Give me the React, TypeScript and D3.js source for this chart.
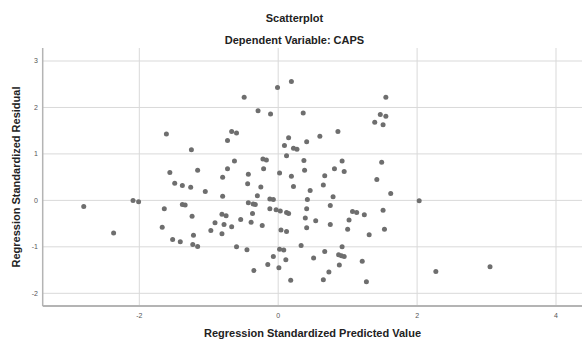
import React from "react";
import * as d3 from "d3";

const predicted = [
  -0.01, -0.49, -0.29, -0.11, -1.61, -0.67, -0.6, -0.73, -1.25, -0.22, -0.17, -0.63, -1.56, -1.16, -0.73, -0.21,
  -0.8, -0.43, 0.02, -1.49, -1.38, -1.26, -0.44, -0.25, 0.19, 1.55, 0.36, 1.47, 1.55, 1.39, 1.51, 0.86, 0.6,
  0.15, 0.41, 0.09, 0.22, 0.27, 0.12, 0.37, 0.92, 1.49, 0.38, 0.81, 0.95, 0.19, 0.67, 1.42, 0.22, 0.65, 0.46,
  -1.05, -0.8, -2.09, -2.01, -1.64, -1.38, -1.34, -1.24, -1.67, -1.52, -1.41, -1.22, -1.23, -1.16, -0.97, -0.91,
  -0.81, -0.75, -0.78, -0.81, -0.67, -0.54, -0.43, -0.36, -0.33, -0.37, -0.39, -0.23, -0.3, -0.12, -0.07, -0.12,
  -0.03, 0.03, 0.12, 0.15, -0.6, -0.45, -0.07, -0.15, -0.35, 0.01, 0.42, 0.79, 1.62, 2.03, 0.41, 0.75, 0.39,
  0.54, 0.75, 0.41, 0.04, 0.12, 1.07, 1.13, 1.24, 1.51, 1.02, 1.0, 1.53, 1.31, 0.33, 0.02, 0.08, 0.92, 0.11,
  0.51, 0.67, 0.87, 0.91, 0.95, 1.21, 0.88, 0.73, 0.65, 0.18, 1.27, -2.8, -2.37, 2.27, 3.05,
];

const residual = [
  2.43, 2.22, 1.93, 1.86, 1.43, 1.48, 1.45, 1.29, 1.09, 0.89, 0.87, 0.85, 0.6, 0.65, 0.68, 0.68,
  0.5, 0.56, 0.59, 0.37, 0.32, 0.28, 0.36, 0.29, 2.56, 2.22, 1.88, 1.85, 1.81, 1.68, 1.63, 1.48, 1.38,
  1.35, 1.26, 1.18, 1.12, 1.1, 0.96, 0.86, 0.85, 0.82, 0.65, 0.68, 0.62, 0.52, 0.53, 0.45, 0.3, 0.33, 0.21,
  0.19, 0.09, 0.0, -0.03, -0.18, -0.09, -0.1, -0.34, -0.58, -0.84, -0.89, -0.75, -0.95, -0.99, -0.65, -0.48,
  -0.3, -0.33, -0.52, -0.72, -0.57, -0.41, -0.05, -0.08, -0.09, -0.28, -0.47, -0.54, 0.1, 0.03, 0.02, -0.18,
  -0.2, -0.23, -0.26, -0.28, -1.0, -1.06, -1.21, -1.38, -1.51, -1.45, 0.02, 0.08, 0.15, -0.01, -0.18, -0.11, -0.38,
  -0.44, -0.52, -0.59, -0.64, -0.67, -0.24, -0.26, -0.31, -0.21, -0.42, -0.62, -0.62, -0.74, -0.97, -1.05, -1.07, -1.0, -1.28,
  -1.24, -1.1, -1.17, -1.19, -1.21, -1.31, -1.39, -1.54, -1.71, -1.72, -1.75, -0.13, -0.7, -1.53, -1.43,
];

const xTicks = [-2, 0, 2, 4];
const yTicks = [-2, -1, 0, 1, 2, 3];

const title = "Scatterplot";
const subtitle = "Dependent Variable: CAPS";
const xTitle = "Regression Standardized Predicted Value";
const yTitle = "Regression Standardized Residual";

export default function App() {
  const W = 582;
  const H = 343;
  const left = 42.7;
  const right = 582;
  const top = 48;
  const bottom = 306;

  const x = d3.scaleLinear().domain([-2, 4]).range([139.3, 556]);
  const y = d3.scaleLinear().domain([-2, 3]).range([293.3, 61]);

  const font = "'Liberation Sans', Arial, sans-serif";
  const pts = predicted.map((p, i) => ({ p, r: residual[i] }));

  return (
    <svg
      width={W}
      height={H}
      style={{ position: "absolute", left: 0, top: 0, background: "#fff" }}
    >
      <rect x={0} y={0} width={W} height={H} fill="#fff" />
      {xTicks.map((t) => (
        <line key={"gx" + t} x1={x(t)} x2={x(t)} y1={top} y2={bottom} stroke="#d9d9d9" strokeWidth={1} />
      ))}
      {yTicks.map((t) => (
        <line key={"gy" + t} x1={left} x2={right} y1={y(t)} y2={y(t)} stroke="#d9d9d9" strokeWidth={1} />
      ))}
      <line x1={left} x2={left} y1={top} y2={bottom} stroke="#b4b4b4" strokeWidth={1.5} />
      <line x1={left} x2={right} y1={bottom} y2={bottom} stroke="#b4b4b4" strokeWidth={2} />
      {xTicks.map((t) => (
        <text key={"tx" + t} x={x(t)} y={318} textAnchor="middle" fontFamily={font} fontSize={7} fill="#555">
          {t}
        </text>
      ))}
      {yTicks.map((t) => (
        <text key={"ty" + t} x={38} y={y(t)} dy="0.35em" textAnchor="end" fontFamily={font} fontSize={7} fill="#555">
          {t}
        </text>
      ))}
      {pts.map((d, i) => (
        <circle key={i} cx={x(d.p)} cy={y(d.r)} r={2.5} fill="#6e6e6e" />
      ))}
      <text x={294.5} y={22} textAnchor="middle" fontFamily={font} fontSize={11} fontWeight="bold" fill="#222">
        {title}
      </text>
      <text x={294.5} y={43.5} textAnchor="middle" fontFamily={font} fontSize={11} fontWeight="bold" fill="#222">
        {subtitle}
      </text>
      <text x={312.5} y={337} textAnchor="middle" fontFamily={font} fontSize={11} fontWeight="bold" fill="#222">
        {xTitle}
      </text>
      <text
        transform={`translate(20, 177) rotate(-90)`}
        textAnchor="middle"
        fontFamily={font}
        fontSize={11}
        fontWeight="bold"
        fill="#222"
      >
        {yTitle}
      </text>
    </svg>
  );
}
